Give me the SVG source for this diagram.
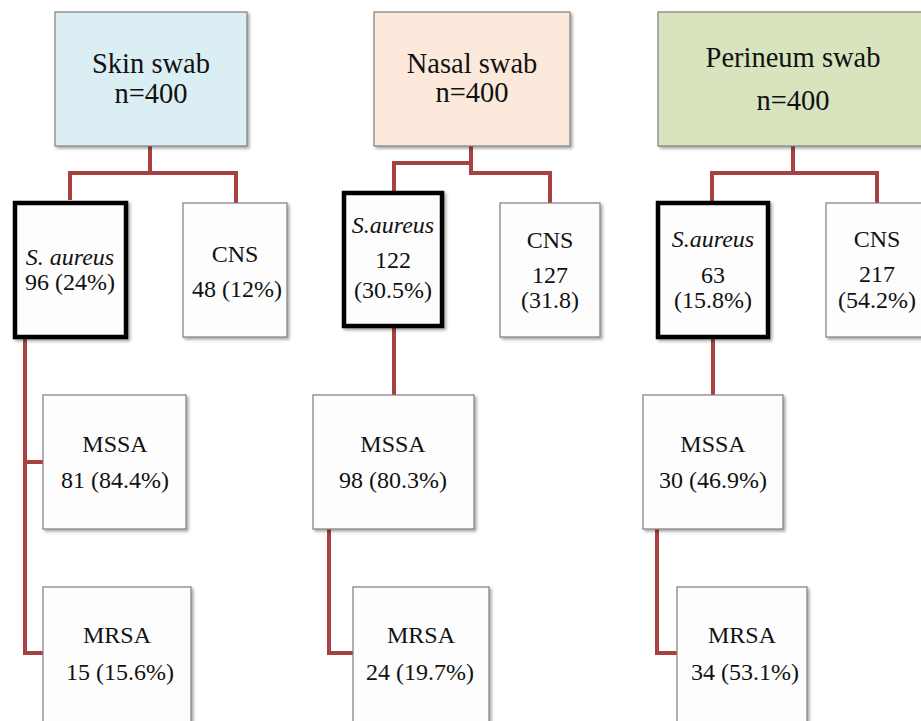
<svg xmlns="http://www.w3.org/2000/svg" width="921" height="721" viewBox="0 0 921 721">
<defs>
<filter id="sh" x="-10%" y="-10%" width="130%" height="130%">
<feDropShadow dx="2" dy="2" stdDeviation="1.5" flood-color="#000" flood-opacity="0.35"/>
</filter>
</defs>
<style>
text{font-family:"Liberation Serif","Times New Roman",serif;fill:#111;text-anchor:middle}
.h{font-size:28.5px}
.t{font-size:24px}
.i{font-style:italic}
.box{fill:#fdfdfd;stroke:#7f7f7f;stroke-width:1.2;filter:url(#sh)}
.sa{fill:#fdfdfd;stroke:#000;stroke-width:4.5;filter:url(#sh)}
.c{fill:none;stroke:#a8413f;stroke-width:4;stroke-linejoin:miter}
</style>
<rect width="921" height="721" fill="#fff"/>
<g id="connectors">
<path class="c" d="M150 146V173M70 200V173H236V203"/>
<path class="c" d="M25 339V653H43M25 462H43"/>
<path class="c" d="M471 146V173H550V203M471 163H394V191"/>
<path class="c" d="M394 328V395M329 529V653H353"/>
<path class="c" d="M793 146V173M712 201V173H877V203"/>
<path class="c" d="M713 339V395M657 529V653H677"/>
</g>
<g id="skin">
<rect class="box" x="55" y="12" width="192" height="134" fill="#dbeef4" style="fill:#dbeef4"/>
<text class="h" x="151" y="73">Skin swab</text>
<text class="h" x="151" y="103">n=400</text>
</g>
<g id="skin-saureus">
<rect class="sa" x="15" y="203" width="111" height="134"/>
<text class="t i" x="70" y="265">S. aureus</text>
<text class="t" x="70" y="290">96 (24%)</text>
</g>
<g id="skin-cns">
<rect class="box" x="183" y="203" width="104" height="134"/>
<text class="t" x="235" y="262">CNS</text>
<text class="t" x="237" y="297">48 (12%)</text>
</g>
<g id="skin-mssa">
<rect class="box" x="43" y="395" width="143" height="134"/>
<text class="t" x="115" y="452">MSSA</text>
<text class="t" x="115" y="488">81 (84.4%)</text>
</g>
<g id="skin-mrsa">
<rect class="box" x="43" y="587" width="148" height="140"/>
<text class="t" x="117" y="643">MRSA</text>
<text class="t" x="120" y="680">15 (15.6%)</text>
</g>
<g id="nasal">
<rect class="box" x="374" y="12" width="196" height="134" style="fill:#fde9db"/>
<text class="h" x="472" y="73">Nasal swab</text>
<text class="h" x="472" y="102">n=400</text>
</g>
<g id="nasal-saureus">
<rect class="sa" x="344" y="193" width="98" height="133"/>
<text class="t i" x="393" y="233">S.aureus</text>
<text class="t" x="393" y="268">122</text>
<text class="t" x="393" y="298">(30.5%)</text>
</g>
<g id="nasal-cns">
<rect class="box" x="500" y="203" width="100" height="134"/>
<text class="t" x="550" y="248">CNS</text>
<text class="t" x="550" y="283">127</text>
<text class="t" x="550" y="308">(31.8)</text>
</g>
<g id="nasal-mssa">
<rect class="box" x="313" y="395" width="161" height="134"/>
<text class="t" x="393" y="452">MSSA</text>
<text class="t" x="393" y="488">98 (80.3%)</text>
</g>
<g id="nasal-mrsa">
<rect class="box" x="353" y="587" width="136" height="140"/>
<text class="t" x="421" y="643">MRSA</text>
<text class="t" x="420" y="680">24 (19.7%)</text>
</g>
<g id="perineum">
<rect class="box" x="658" y="12" width="270" height="134" style="fill:#d7e4bd"/>
<text class="h" x="793" y="67">Perineum swab</text>
<text class="h" x="793" y="110">n=400</text>
</g>
<g id="perineum-saureus">
<rect class="sa" x="658" y="203" width="110" height="134"/>
<text class="t i" x="713" y="247">S.aureus</text>
<text class="t" x="713" y="283">63</text>
<text class="t" x="713" y="308">(15.8%)</text>
</g>
<g id="perineum-cns">
<rect class="box" x="826" y="203" width="102" height="134"/>
<text class="t" x="877" y="247">CNS</text>
<text class="t" x="877" y="282">217</text>
<text class="t" x="877" y="308">(54.2%)</text>
</g>
<g id="perineum-mssa">
<rect class="box" x="643" y="395" width="140" height="134"/>
<text class="t" x="713" y="452">MSSA</text>
<text class="t" x="713" y="488">30 (46.9%)</text>
</g>
<g id="perineum-mrsa">
<rect class="box" x="677" y="587" width="130" height="140"/>
<text class="t" x="742" y="643">MRSA</text>
<text class="t" x="745" y="680">34 (53.1%)</text>
</g>
</svg>
